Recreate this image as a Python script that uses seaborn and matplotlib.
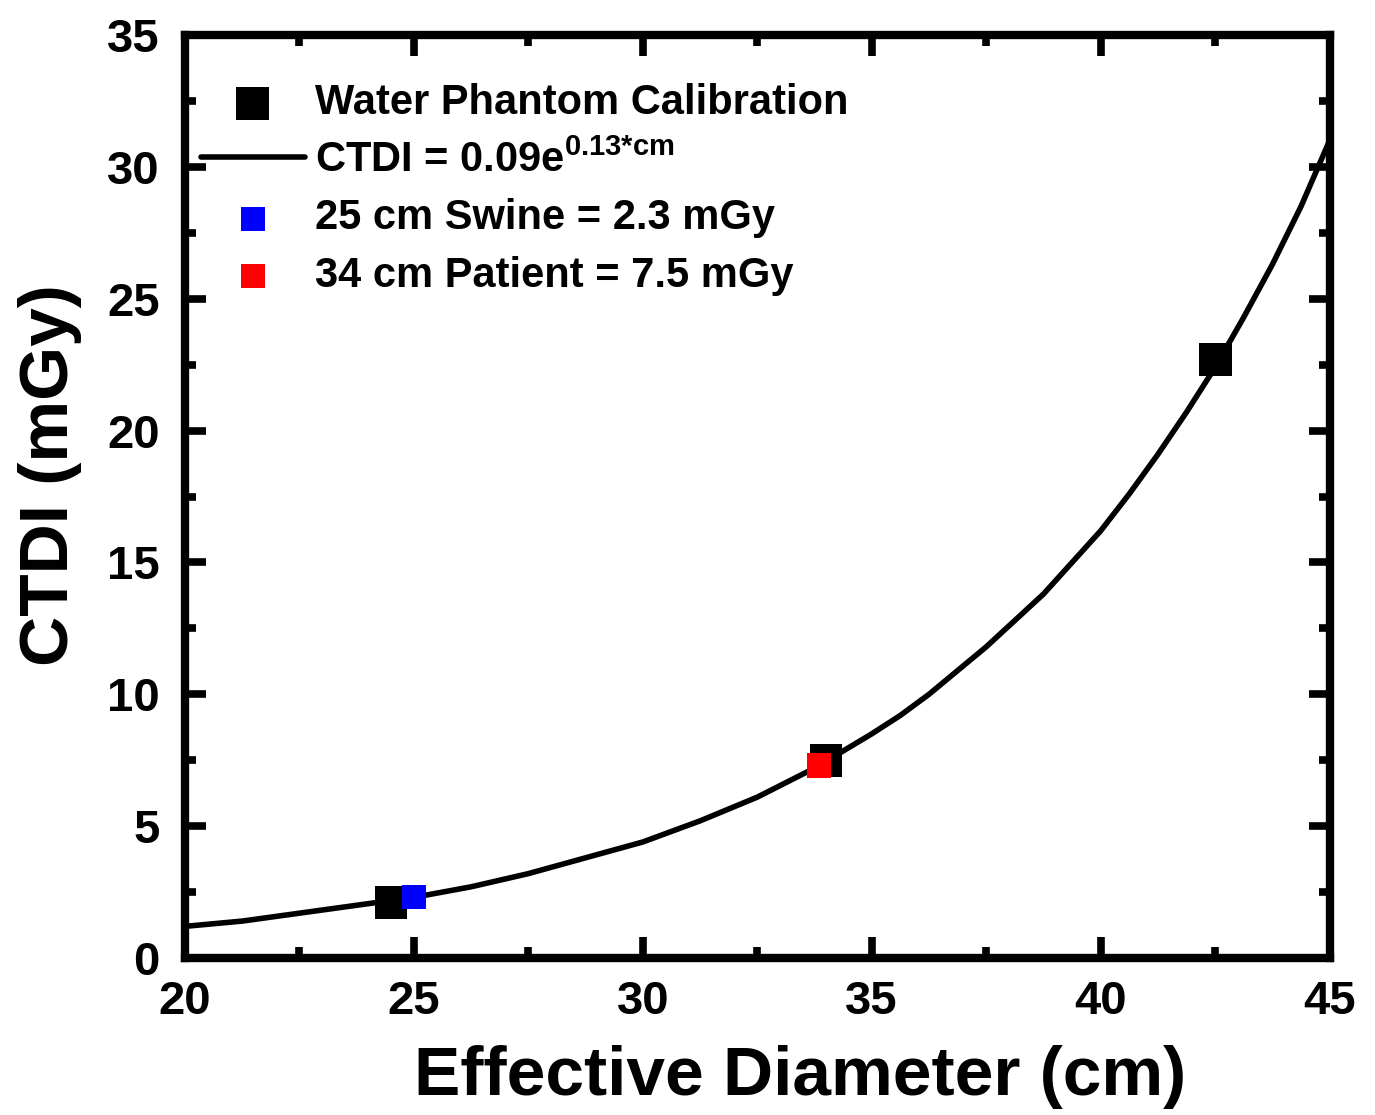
import seaborn as sns
import matplotlib.pyplot as plt
from matplotlib.ticker import MultipleLocator

# Calibration points (water phantom)
phantom_cm = [24.5, 34.0, 42.5]
phantom_ctdi = [2.1, 7.5, 22.7]

# Measured cases
swine_cm = [25.0]
swine_ctdi = [2.3]
patient_cm = [33.85]
patient_ctdi = [7.3]

# Fit curve
fit_cm = [20, 21.25, 22.5, 23.75, 25, 26.25, 27.5, 28.75, 30, 31.25, 32.5,
          33.75, 35, 35.625, 36.25, 36.875, 37.5, 38.125, 38.75, 39.375, 40,
          40.625, 41.25, 41.875, 42.5, 43.125, 43.75, 44.375, 45]
fit_ctdi = [1.2, 1.4, 1.7, 2.0, 2.3, 2.7, 3.2, 3.8, 4.4, 5.2, 6.1,
            7.2, 8.5, 9.2, 10.0, 10.9, 11.8, 12.8, 13.8, 15.0, 16.2,
            17.6, 19.1, 20.7, 22.4, 24.3, 26.3, 28.5, 31.0]

sns.set_style('ticks')
plt.rcParams['font.family'] = ['Liberation Sans', 'DejaVu Sans']
plt.rcParams['font.weight'] = 'bold'
plt.rcParams['text.color'] = 'black'
plt.rcParams['axes.labelcolor'] = 'black'
plt.rcParams['axes.edgecolor'] = 'black'
plt.rcParams['xtick.color'] = 'black'
plt.rcParams['ytick.color'] = 'black'
plt.rcParams['mathtext.fontset'] = 'custom'
plt.rcParams['mathtext.rm'] = 'Liberation Sans:bold'
plt.rcParams['mathtext.bf'] = 'Liberation Sans:bold'

fig = plt.figure(figsize=(13.75, 11.15), dpi=100)
ax = fig.add_axes([0.1345, 0.1408, 0.8325, 0.8278])

sns.scatterplot(x=phantom_cm, y=phantom_ctdi, marker='s', s=560, color='black',
                edgecolor='none', ax=ax, zorder=2, label='Water Phantom Calibration')
sns.lineplot(x=fit_cm, y=fit_ctdi, color='black', linewidth=4, ax=ax, zorder=3,
             label=r'CTDI = 0.09e$^{\mathrm{0.13{*}cm}}$')
sns.scatterplot(x=swine_cm, y=swine_ctdi, marker='s', s=300, color='#0000ff',
                edgecolor='none', ax=ax, zorder=4, label='25 cm Swine = 2.3 mGy')
sns.scatterplot(x=patient_cm, y=patient_ctdi, marker='s', s=300, color='#ff0000',
                edgecolor='none', ax=ax, zorder=4, label='34 cm Patient = 7.5 mGy')

ax.set_xlim(20, 45)
ax.set_ylim(0, 35)
ax.xaxis.set_major_locator(MultipleLocator(5))
ax.xaxis.set_minor_locator(MultipleLocator(2.5))
ax.yaxis.set_major_locator(MultipleLocator(5))
ax.yaxis.set_minor_locator(MultipleLocator(2.5))
ax.tick_params(which='both', direction='in', top=True, right=True, width=5.5,
               labelsize=34, colors='black')
ax.tick_params(axis='x', pad=16)
ax.tick_params(axis='y', pad=18)
ax.tick_params(which='major', length=15)
ax.tick_params(which='minor', length=8)
for lab in ax.get_xticklabels() + ax.get_yticklabels():
    lab.set_fontweight('bold')
for sp in ax.spines.values():
    sp.set_linewidth(6)
    sp.set_visible(True)
    sp.set_color('black')

ax.set_xlabel('Effective Diameter (cm)', fontsize=50, fontweight='bold')
ax.set_ylabel('CTDI (mGy)', fontsize=50, fontweight='bold')
ax.xaxis.set_label_coords(0.537, -0.094)
ax.yaxis.set_label_coords(-0.09, 0.523)

h, l = ax.get_legend_handles_labels()
leg = ax.legend(h, l, loc='upper left', bbox_to_anchor=(-0.008, 0.975), frameon=False,
                fontsize=30, handlelength=2.5, handletextpad=0.25, labelspacing=0.42,
                borderaxespad=0.2)
for t in leg.get_texts():
    t.set_fontweight('bold')
    t.set_color('black')

fig.savefig('out.png', dpi=100)
